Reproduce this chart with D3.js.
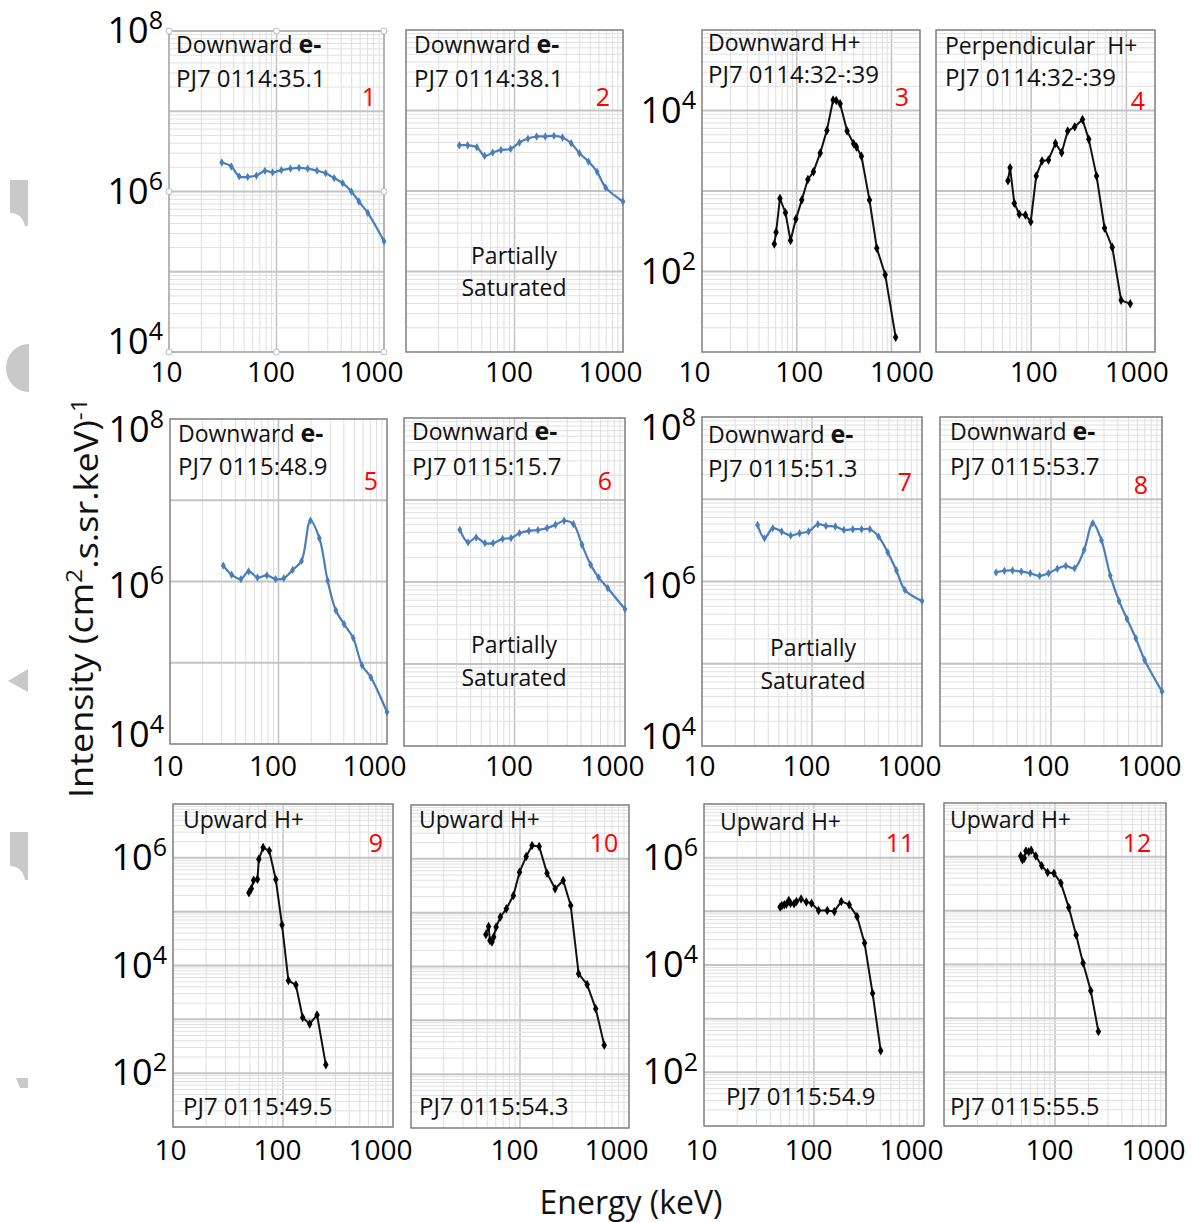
<!DOCTYPE html>
<html>
<head>
<meta charset="utf-8">
<script src="https://cdn.jsdelivr.net/npm/d3@7"></script>
<style>
  body { margin: 0; background: #fff; }
  svg { display: block; font-family: "Open Sans", "DejaVu Sans", sans-serif; }
</style>
</head>
<body>
<svg id="chart" width="1192" height="1222"></svg>
<script>
// ---- data (energy in keV, intensity in cm^-2 s^-1 sr^-1 keV^-1) ----
const p1E = [31, 38, 45, 54, 65, 78, 92, 111, 135, 162, 195, 238, 286, 344, 413, 497, 584, 707, 1000];
const p1I = [2.3e6, 2.05e6, 1.54e6, 1.52e6, 1.58e6, 1.81e6, 1.73e6, 1.85e6, 1.93e6, 1.97e6, 1.93e6, 1.82e6, 1.69e6, 1.47e6, 1.27e6, 1.0e6, 7.5e5, 5.4e5, 2.4e5];

const p2E = [31, 37, 45, 53, 63, 75, 92, 111, 133, 160, 192, 231, 277, 333, 397, 481, 577, 693, 1000];
const p2I = [3.7e6, 3.7e6, 3.5e6, 2.73e6, 3.0e6, 3.24e6, 3.33e6, 4.0e6, 4.48e6, 4.75e6, 4.75e6, 4.84e6, 4.62e6, 3.92e6, 2.94e6, 2.32e6, 1.73e6, 1.1e6, 7.4e5];

const p3E = [58, 60.5, 66.5, 76, 86, 98, 113, 131, 150, 177, 208, 242, 261, 287, 340, 399, 427, 482, 586, 700, 859, 1107];
const p3I = [220, 307, 807, 537, 242, 448, 771, 1390, 1730, 2970, 5660, 13500, 13300, 12100, 5550, 3870, 3520, 2700, 771, 195, 91, 15.3];

const p4E = [57, 60, 66.5, 75, 87, 99, 113, 130, 152, 180, 209, 242, 287, 346, 403, 486, 590, 711, 881, 1099];
const p4I = [1340, 1950, 706, 516, 502, 416, 1540, 2360, 2430, 3910, 2990, 5550, 6280, 7740, 4380, 1540, 347, 200, 43.8, 39.8];

const p5E = [31, 37, 45, 53, 64, 78, 94, 112, 135, 163, 197, 238, 284, 338, 402, 489, 588, 710, 1000];
const p5I = [1.57e6, 1.21e6, 1.07e6, 1.33e6, 1.12e6, 1.19e6, 1.07e6, 1.1e6, 1.39e6, 1.79e6, 5.62e6, 3.41e6, 1.02e6, 4.4e5, 2.99e5, 2.01e5, 9.3e4, 6.6e4, 2.47e4];

const p6E = [32, 38, 45, 54, 64, 78, 93, 111, 135, 163, 197, 235, 281, 341, 408, 489, 576, 699, 1000];
const p6I = [4.33e6, 3.04e6, 3.49e6, 2.98e6, 2.98e6, 3.36e6, 3.43e6, 3.94e6, 4.21e6, 4.3e6, 4.54e6, 4.99e6, 5.58e6, 5.09e6, 2.85e6, 1.62e6, 1.14e6, 8.4e5, 4.66e5];

const p7E = [32, 37, 44, 53, 64, 77, 93, 113, 134, 163, 195, 235, 282, 336, 403, 488, 586, 699, 1000];
const p7I = [4.88e6, 3.36e6, 4.45e6, 4.05e6, 3.62e6, 3.86e6, 4.05e6, 4.97e6, 4.74e6, 4.66e6, 4.24e6, 4.32e6, 4.32e6, 4.32e6, 3.52e6, 2.26e6, 1.36e6, 7.9e5, 5.8e5];

const p8E = [32, 38, 45, 54, 65, 79, 95, 114, 136, 163, 199, 238, 285, 342, 410, 484, 581, 697, 1000];
const p8I = [1.29e6, 1.35e6, 1.36e6, 1.32e6, 1.26e6, 1.17e6, 1.26e6, 1.43e6, 1.55e6, 1.45e6, 2.43e6, 5.13e6, 3.16e6, 1.18e6, 5.8e5, 3.5e5, 2.04e5, 1.11e5, 4.6e4];

const p9E = [49, 51.5, 54, 58.6, 60.3, 66, 75, 86, 98, 112, 131, 151, 175, 204, 245];
const p9I = [2.24e5, 2.66e5, 3.85e5, 4.02e5, 9.45e5, 1.55e6, 1.35e6, 3.96e5, 5.63e4, 5.24e3, 4.35e3, 1.08e3, 822, 1.21e3, 143];

const p10E = [48.6, 51.5, 53, 55.3, 57.4, 60.4, 66, 75, 87, 99, 114, 129, 150, 177, 210, 249, 292, 345, 413, 495, 593];
const p10I = [3.95e4, 5.56e4, 3.05e4, 2.85e4, 3.52e4, 5.4e4, 8.3e4, 1.18e5, 2.09e5, 5.66e5, 1.1e6, 1.77e6, 1.69e6, 5.42e5, 2.78e5, 3.96e5, 1.36e5, 7.36e3, 4.61e3, 1.65e3, 345];

const p11E = [49.2, 51, 53.7, 56.1, 59, 61.2, 65.9, 69.3, 76.3, 85.1, 95, 110, 132, 153, 177, 209, 246, 288, 341, 404];
const p11I = [1.2e5, 1.27e5, 1.33e5, 1.36e5, 1.59e5, 1.42e5, 1.38e5, 1.53e5, 1.69e5, 1.49e5, 1.42e5, 1.04e5, 1.04e5, 9.96e4, 1.53e5, 1.33e5, 8.05e4, 2.58e4, 2.96e3, 252];

const p12E = [49.1, 50.9, 52.8, 54.7, 58, 61, 67.1, 75.9, 85.8, 97.9, 113, 133, 155, 179, 210, 246];
const p12I = [1.04e6, 8.8e5, 9.45e5, 1.29e6, 1.24e6, 1.33e6, 1.04e6, 6.81e5, 5.12e5, 4.98e5, 3.25e5, 1.15e5, 3.52e4, 1.07e4, 3.27e3, 568];

const titles = ["Downward e-", "Downward e-", "Downward H+", "Perpendicular  H+",
                "Downward e-", "Downward e-", "Downward e-", "Downward e-",
                "Upward H+", "Upward H+", "Upward H+", "Upward H+"];
const stamps = ["PJ7 0114:35.1", "PJ7 0114:38.1", "PJ7 0114:32-:39", "PJ7 0114:32-:39",
                "PJ7 0115:48.9", "PJ7 0115:15.7", "PJ7 0115:51.3", "PJ7 0115:53.7",
                "PJ7 0115:49.5", "PJ7 0115:54.3", "PJ7 0115:54.9", "PJ7 0115:55.5"];
const saturatedPanels = [2, 6, 7];

const xTicksFull = [10, 100, 1000];
const xTicksShort = [100, 1000];
const yTicksE = [1e8, 1e6, 1e4];
const yTicksH = [1e4, 1e2];
const yTicksUp = [1e6, 1e4, 1e2];

// ---- panel layout (box = x0, y0, x1, y1) ----
const nudgeTop = { 1e8: 0, 1e6: 0, 1e4: -10 };
const nudgeMid = { 1e8: 11, 1e6: 4, 1e4: -9 };
const panels = [
  { E: p1E, I: p1I, box: [169, 31, 384, 352], xMax: 1000, yDom: [1e4, 1e8], ion: false, yTicks: yTicksE, yNudge: nudgeTop, xTicks: xTicksFull, xPad: 10, hMinor: true,
    tx: 7, tb: 22, sb: 56, nx: 15, nb: 75 },
  { E: p2E, I: p2I, box: [406, 30, 623, 352], xMax: 1000, yDom: [1e4, 1e8], ion: false, yTicks: null, xTicks: xTicksShort, xPad: 10, hMinor: true,
    tx: 8, tb: 23, sb: 57, nx: 20, nb: 76, sat: [514, 264, 296] },
  { E: p3E, I: p3I, box: [702, 30, 920, 352], xMax: 2000, yDom: [10, 1e5], ion: true, yTicks: yTicksH, xTicks: xTicksFull, xPad: 10, hMinor: true,
    tx: 6, tb: 21, sb: 53, nx: 18, nb: 76 },
  { E: p4E, I: p4I, box: [936, 30, 1155, 352], xMax: 2000, yDom: [10, 1e5], ion: true, yTicks: null, xTicks: xTicksShort, xPad: 10, hMinor: true,
    tx: 9, tb: 24, sb: 56, nx: 17, nb: 80 },
  { E: p5E, I: p5I, box: [170, 419, 387, 744], xMax: 1000, yDom: [1e4, 1e8], ion: false, yTicks: yTicksE, yNudge: nudgeMid, xTicks: xTicksFull, xPad: 12, hMinor: false,
    tx: 8, tb: 23, sb: 56, nx: 16, nb: 71 },
  { E: p6E, I: p6I, box: [404, 418, 625, 746], xMax: 1000, yDom: [1e4, 1e8], ion: false, yTicks: null, xTicks: xTicksShort, xPad: 10, hMinor: true,
    tx: 8, tb: 22, sb: 57, nx: 20, nb: 72, sat: [514, 653, 686] },
  { E: p7E, I: p7I, box: [702, 417, 922, 746], xMax: 1000, yDom: [1e4, 1e8], ion: false, yTicks: yTicksE, yNudge: nudgeMid, xTicks: xTicksFull, xPad: 10, hMinor: true,
    tx: 6, tb: 26, sb: 60, nx: 17, nb: 74, sat: [813, 656, 689] },
  { E: p8E, I: p8I, box: [940, 417, 1162, 746], xMax: 1000, yDom: [1e4, 1e8], ion: false, yTicks: null, xTicks: xTicksShort, xPad: 10, hMinor: true,
    tx: 10, tb: 23, sb: 58, nx: 21, nb: 77 },
  { E: p9E, I: p9I, box: [173, 804, 393, 1127], xMax: 1000, yDom: [10, 1e7], ion: true, yTicks: yTicksUp, xTicks: xTicksFull, xPad: 13, hMinor: true,
    tx: 10, tb: 24, sb: -12, nx: 17, nb: 48 },
  { E: p10E, I: p10I, box: [411, 805, 629, 1128], xMax: 1000, yDom: [10, 1e7], ion: true, yTicks: null, xTicks: xTicksShort, xPad: 12, hMinor: true,
    tx: 8, tb: 23, sb: -13, nx: 25, nb: 47 },
  { E: p11E, I: p11I, box: [704, 804, 924, 1126], xMax: 1000, yDom: [10, 1e7], ion: true, yTicks: yTicksUp, xTicks: xTicksFull, xPad: 14, hMinor: true,
    tx: 16, tb: 26, sb: -21, sx: 22, nx: 24, nb: 48 },
  { E: p12E, I: p12I, box: [944, 803, 1166, 1126], xMax: 1000, yDom: [10, 1e7], ion: true, yTicks: null, xTicks: xTicksShort, xPad: 14, hMinor: true,
    tx: 6, tb: 25, sb: -11, nx: 29, nb: 49 }
];

const eBlue = "#4a7ebb";
const svg = d3.select("#chart");

// light-gray watermark fragments at the left margin
const marks = svg.append("g").attr("fill", "#c9c9c9");
marks.append("path").attr("d", "M10,180 H28 V226 H25 Q22,213 10,213 Z");
marks.append("path").attr("d", "M29,344 A23,24 0 0 0 29,392 Z");
marks.append("path").attr("d", "M8,681 L28,669 L28,692 Z");
marks.append("path").attr("d", "M10,832 H28 V880 H25 Q22,866 10,866 Z");
marks.append("path").attr("d", "M16,1078 H28 V1088 H20 Z");

// grid values of a log axis: every k*10^n inside the domain
function logLines(lo, hi) {
  const out = [];
  for (let e = Math.floor(Math.log10(lo)); e <= Math.ceil(Math.log10(hi)); e++) {
    for (let k = 1; k < 10; k++) {
      const v = k * Math.pow(10, e);
      if (v > lo * 1.0001 && v < hi * 0.9999) out.push({ v: v, major: k === 1 });
    }
  }
  return out;
}

panels.forEach((p, i) => {
  const [x0, y0, x1, y1] = p.box;
  const x = d3.scaleLog().domain([10, p.xMax]).range([x0, x1]);
  const y = d3.scaleLog().domain(p.yDom).range([y1, y0]);
  const g = svg.append("g");

  // grid
  g.selectAll(".vg").data(logLines(10, p.xMax)).join("line").attr("class", "vg")
    .attr("x1", d => x(d.v)).attr("x2", d => x(d.v)).attr("y1", y0).attr("y2", y1)
    .attr("stroke", d => d.major ? "#c2c2c2" : "#dedede")
    .attr("stroke-width", d => d.major ? 1.5 : 1);
  g.selectAll(".hg").data(logLines(p.yDom[0], p.yDom[1]).filter(d => d.major || p.hMinor)).join("line").attr("class", "hg")
    .attr("x1", x0).attr("x2", x1).attr("y1", d => y(d.v)).attr("y2", d => y(d.v))
    .attr("stroke", d => d.major ? "#c4c4c4" : "#e0e0e0")
    .attr("stroke-width", d => d.major ? 2 : 1);

  // frame
  g.append("rect").attr("x", x0).attr("y", y0).attr("width", x1 - x0).attr("height", y1 - y0)
    .attr("fill", "none").attr("stroke", i === 0 ? "#a6a6a6" : "#858585").attr("stroke-width", 1.6);

  // x axis labels
  const ax = d3.axisBottom(x).tickValues(p.xTicks).tickSize(0).tickPadding(p.xPad).tickFormat(d3.format("d"));
  const gx = g.append("g").attr("transform", `translate(0,${y1})`).call(ax);
  gx.select(".domain").remove();
  gx.attr("font-size", 28).attr("font-family", null);
  gx.selectAll(".tick text").attr("fill", "#000")
    .attr("dx", d => p.xMax === 1000 ? ({ 10: -3, 100: -6, 1000: -13 })[d] : ({ 10: -8, 100: 2, 1000: 10 })[d]);

  // y axis labels as powers of ten
  if (p.yTicks) {
    const ay = d3.axisLeft(y).tickValues(p.yTicks).tickSize(0).tickPadding(6).tickFormat("");
    const gy = g.append("g").attr("transform", `translate(${x0},0)`).call(ay);
    gy.select(".domain").remove();
    gy.attr("font-size", 36).attr("font-family", null);
    gy.selectAll(".tick text").attr("fill", "#000").each(function (d) {
      const t = d3.select(this);
      if (p.yNudge) t.attr("y", p.yNudge[d] || 0);
      t.text("10");
      t.append("tspan").attr("dy", "-0.55em").attr("font-size", 25).text(Math.round(Math.log10(d)));
    });
  }

  // series
  const pts = p.E.map((e, k) => [e, p.I[k]]);
  const line = d3.line().x(d => x(d[0])).y(d => y(d[1]))
    .curve(p.ion ? d3.curveLinear : d3.curveCatmullRom.alpha(0.5));
  g.append("path").datum(pts).attr("d", line).attr("fill", "none")
    .attr("stroke", p.ion ? "#111" : eBlue).attr("stroke-width", p.ion ? 2 : 2.2)
    .attr("stroke-linejoin", "round");
  g.selectAll(".mk").data(pts).join("path").attr("class", "mk")
    .attr("transform", d => `translate(${x(d[0])},${y(d[1])})`)
    .attr("d", d3.symbol().type(d3.symbolDiamond).size(p.ion ? 26 : 20))
    .attr("fill", p.ion ? "#000" : eBlue);

  // panel texts
  const title = titles[i];
  const tt = g.append("text").attr("x", x0 + p.tx).attr("y", y0 + p.tb)
    .attr("font-size", 23).attr("fill", "#111").attr("xml:space", "preserve");
  if (title.endsWith("e-")) {
    tt.append("tspan").text(title.slice(0, -2));
    tt.append("tspan").attr("font-weight", "bold").attr("font-size", 25).text("e-");
  } else {
    tt.text(title);
  }
  const sy = p.sb < 0 ? y1 + p.sb : y0 + p.sb;
  g.append("text").attr("x", x0 + (p.sx || p.tx)).attr("y", sy)
    .attr("font-size", 24).attr("fill", "#111").text(stamps[i]);
  g.append("text").attr("x", x1 - p.nx).attr("y", y0 + p.nb).attr("text-anchor", "middle")
    .attr("font-size", 25).attr("fill", "#ff0000").text(i + 1);

  if (saturatedPanels.includes(i + 1)) {
    const [cx, b1, b2] = p.sat;
    g.append("text").attr("x", cx).attr("y", b1).attr("text-anchor", "middle").attr("font-size", 23).attr("fill", "#111").text("Partially");
    g.append("text").attr("x", cx).attr("y", b2).attr("text-anchor", "middle").attr("font-size", 23).attr("fill", "#111").text("Saturated");
  }

  // selection handles on the first chart
  if (i === 0) {
    const xm = (x0 + x1) / 2, ym = y(1e6);
    const handles = [[x0, y0], [xm, y0], [x1, y0], [x0, ym], [x1, ym], [x0, y1], [xm, y1], [x1, y1]];
    g.selectAll(".hd").data(handles).join("circle").attr("class", "hd")
      .attr("cx", d => d[0]).attr("cy", d => d[1]).attr("r", 3)
      .attr("fill", "#fff").attr("stroke", "#a9bccf").attr("stroke-width", 1);
  }
});

// axis titles
const yt = svg.append("text").attr("transform", "translate(93,598) rotate(-90)")
  .attr("text-anchor", "middle").attr("font-size", 32).attr("fill", "#111")
  .attr("textLength", 400).attr("lengthAdjust", "spacingAndGlyphs");
yt.append("tspan").text("Intensity (cm");
yt.append("tspan").attr("dy", "-0.5em").attr("font-size", 22).text("2");
yt.append("tspan").attr("dy", "0.5em").text(".s.sr.keV)");
yt.append("tspan").attr("dy", "-0.5em").attr("font-size", 22).text("-1");

svg.append("text").attr("x", 631).attr("y", 1214).attr("text-anchor", "middle")
  .attr("font-size", 32).attr("fill", "#111").text("Energy (keV)");
</script>
</body>
</html>
